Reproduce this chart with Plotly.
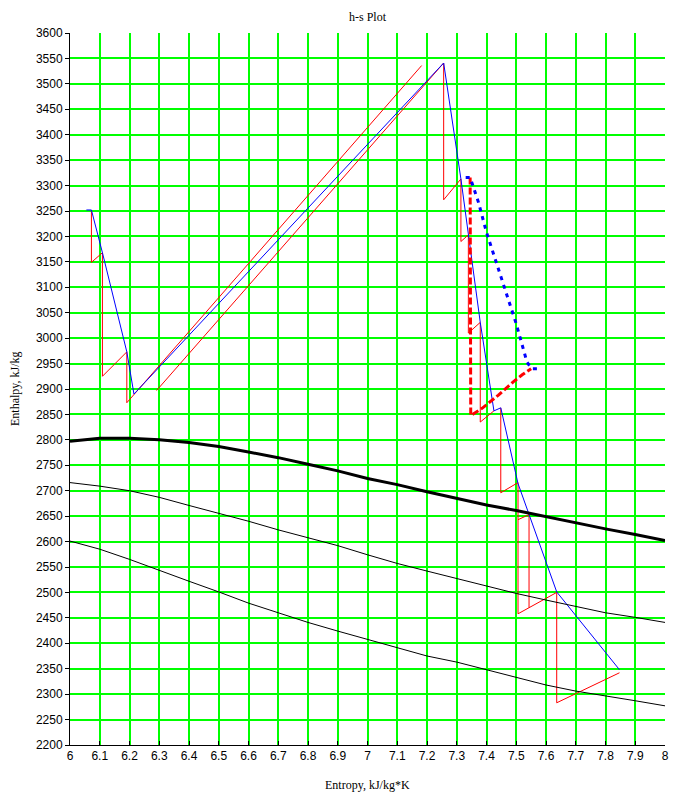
import plotly.graph_objects as go

# ---- data ----
x_tick_vals = [6.0, 6.1, 6.2, 6.3, 6.4, 6.5, 6.6, 6.7, 6.8, 6.9, 7.0,
               7.1, 7.2, 7.3, 7.4, 7.5, 7.6, 7.7, 7.8, 7.9, 8.0]
x_tick_text = ["6", "6.1", "6.2", "6.3", "6.4", "6.5", "6.6", "6.7", "6.8", "6.9", "7",
               "7.1", "7.2", "7.3", "7.4", "7.5", "7.6", "7.7", "7.8", "7.9", "8"]
y_tick_vals = list(range(2200, 3601, 50))

# saturation / quality curves
s_curves = x_tick_vals
h_sat_vapour = [2797, 2803, 2803, 2800, 2795, 2787, 2776, 2765, 2752, 2739, 2724,
                2712, 2698, 2685, 2672, 2661, 2649, 2636, 2625, 2614, 2602]
h_quality_hi = [2716, 2709, 2700, 2687, 2671, 2656, 2640, 2623, 2607, 2592, 2574,
                2557, 2542, 2527, 2512, 2498, 2485, 2472, 2460, 2451, 2441]
h_quality_lo = [2601, 2585, 2565, 2543, 2522, 2501, 2479, 2460, 2441, 2424, 2408,
                2391, 2375, 2363, 2348, 2333, 2318, 2306, 2297, 2287, 2277]

# actual expansion line (blue)
s_actual = [6.055, 6.072, 6.109, 6.191, 6.215, 7.256, 7.314, 7.339, 7.379,
            7.425, 7.448, 7.506, 7.543, 7.636, 7.847]
h_actual = [3252, 3252, 3168, 2973, 2890, 3541, 3313, 3203, 3031,
            2857, 2863, 2714, 2653, 2501, 2348]

# stage-by-stage isentropic drops (red), segments separated by None
s_stages = [6.072, 6.072, 6.109, 6.109, 6.191, 6.191, 7.182, None,
            6.291, 7.256, None,
            7.256, 7.256, 7.314, 7.314, 7.339, 7.339, 7.379, 7.379, 7.425, None,
            7.448, 7.448, 7.506, 7.506, 7.636, 7.636, 7.847, None,
            7.506, 7.543, 7.543]
h_stages = [3252, 3149, 3168, 2925, 2973, 2873, 3536, None,
            2897, 3541, None,
            3541, 3272, 3313, 3190, 3203, 3010, 3031, 2835, 2857, None,
            2863, 2696, 2716, 2458, 2500, 2283, 2342, None,
            2643, 2653, 2470]

# dashed lines
s_dash_blue = [7.330, 7.345, 7.373, 7.400, 7.450, 7.500, 7.536, 7.552, 7.575]
h_dash_blue = [3316, 3316, 3267, 3208, 3118, 3028, 2953, 2940, 2940]
s_dash_red = [7.345, 7.347, 7.385, 7.440, 7.490, 7.520, 7.550]
h_dash_red = [3316, 2848, 2862, 2888, 2914, 2928, 2940]

fig = go.Figure()

def add(x, y, color, width, dash="solid"):
    fig.add_trace(go.Scatter(x=x, y=y, mode="lines",
                             line=dict(color=color, width=width, dash=dash),
                             showlegend=False, hoverinfo="skip", connectgaps=False))

add(s_stages, h_stages, "#FF0000", 1)
add(s_actual, h_actual, "#0000FF", 1)
add(s_dash_red, h_dash_red, "#FF0000", 3, "7px,3px")
add(s_dash_blue, h_dash_blue, "#0000FF", 3, "4px,5px")
add(s_curves, h_sat_vapour, "#000000", 3)
add(s_curves, h_quality_hi, "#000000", 1)
add(s_curves, h_quality_lo, "#000000", 1)

serif = "Liberation Serif, Times New Roman, serif"
sans = "Liberation Sans, Arial, sans-serif"

# page body has an 8px margin, so the figure is 8px smaller and margins shifted
fig.update_layout(
    width=677, height=786,
    margin=dict(l=62, r=20, t=25, b=49, pad=0),
    plot_bgcolor="white", paper_bgcolor="white",
    xaxis=dict(range=[6, 8], tickvals=x_tick_vals, ticktext=x_tick_text,
               showgrid=True, gridcolor="#00FF00", gridwidth=2,
               showline=True, linecolor="black", linewidth=1,
               ticks="inside", ticklen=4, tickcolor="black", tickwidth=1,
               tickfont=dict(family=sans, size=12, color="black"),
               zeroline=False),
    yaxis=dict(range=[2200, 3600], tickvals=y_tick_vals,
               showgrid=True, gridcolor="#00FF00", gridwidth=2,
               showline=True, linecolor="black", linewidth=1,
               ticks="outside", ticklen=4, tickcolor="black", tickwidth=1,
               tickfont=dict(family=sans, size=12, color="black"),
               zeroline=False),
    annotations=[
        dict(text="h-s Plot", xref="paper", yref="paper", x=0.5, y=1,
             yshift=16, showarrow=False, yanchor="middle",
             font=dict(family=serif, size=12, color="black")),
        dict(text="Entropy, kJ/kg*K", xref="paper", yref="paper", x=0.5, y=0,
             yshift=-40, showarrow=False, yanchor="middle",
             font=dict(family=serif, size=12, color="black")),
        dict(text="Enthalpy, kJ/kg", xref="paper", yref="paper", x=0, y=0.5,
             xshift=-55, showarrow=False, textangle=-90, xanchor="center",
             font=dict(family=serif, size=12, color="black")),
    ],
)

fig.write_html("out.html")
